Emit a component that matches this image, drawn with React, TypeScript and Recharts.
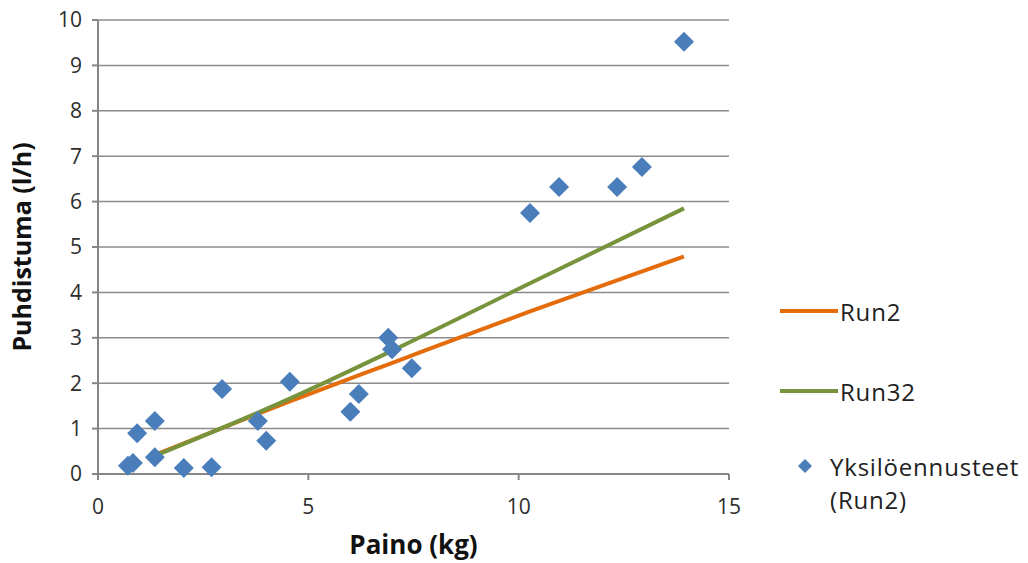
import {
  CartesianGrid,
  ComposedChart,
  Line,
  Scatter,
  XAxis,
  YAxis,
} from 'recharts'

// individual predictions (Run2)
const weightKg = [0.71, 0.83, 0.93, 1.35, 1.35, 2.04, 2.7, 2.95, 3.8, 4.0, 4.56, 6.0, 6.2, 6.9, 6.99, 7.46, 10.27, 10.96, 12.34, 12.93, 13.93]
const predicted = [0.18, 0.24, 0.9, 1.17, 0.37, 0.13, 0.15, 1.87, 1.17, 0.73, 2.03, 1.37, 1.76, 3.0, 2.75, 2.33, 5.75, 6.32, 6.32, 6.76, 9.52]

// fitted curves
const curveX = [1.35, 4.56, 7.0, 10.27, 13.93]
const run2Y = [0.42, 1.6, 2.45, 3.58, 4.79]
const run32Y = [0.4, 1.66, 2.72, 4.2, 5.85]

const xTicks = [0, 5, 10, 15]
const yTicks = [0, 1, 2, 3, 4, 5, 6, 7, 8, 9, 10]

const scatterData = weightKg.map((x, i) => ({ x, y: predicted[i] }))
const run2Data = curveX.map((x, i) => ({ x, y: run2Y[i] }))
const run32Data = curveX.map((x, i) => ({ x, y: run32Y[i] }))

const FONT = '"Open Sans", "Noto Sans", sans-serif'
const ORANGE = '#e46c0a'
const GREEN = '#77933c'
const BLUE = '#4a7ebb'
const AXIS = '#868686'

const Diamond = (props: any) => {
  const { cx, cy } = props
  const r = 10
  return <polygon points={`${cx},${cy - r} ${cx + r},${cy} ${cx},${cy + r} ${cx - r},${cy}`} fill={BLUE} />
}

const legendText = { fontFamily: FONT, fontSize: 24, letterSpacing: 0.8, color: '#222', lineHeight: '33px' }

function LegendBox() {
  return (
    <div style={{ position: 'absolute', left: 780, top: 294, width: 248 }}>
      <div style={{ display: 'flex', alignItems: 'center', height: 34 }}>
        <span style={{ width: 58, height: 4, background: ORANGE, marginRight: 2 }} />
        <span style={legendText}>Run2</span>
      </div>
      <div style={{ display: 'flex', alignItems: 'center', height: 34, marginTop: 46 }}>
        <span style={{ width: 58, height: 4, background: GREEN, marginRight: 2 }} />
        <span style={legendText}>Run32</span>
      </div>
      <div style={{ display: 'flex', alignItems: 'flex-start', marginTop: 42 }}>
        <svg width={50} height={33}>
          <polygon points="25,9 32,16 25,23 18,16" fill={BLUE} />
        </svg>
        <span style={legendText}>
          Yksilöennusteet
          <br />
          (Run2)
        </span>
      </div>
    </div>
  )
}

export default function App() {
  return (
    <div style={{ position: 'absolute', left: 0, top: 0, width: 1028, height: 563, background: '#fff' }}>
      <ComposedChart width={1028} height={563} margin={{ top: 20, right: 299, bottom: 0, left: 0 }}>
        <CartesianGrid vertical={false} stroke="#8c8c8c" strokeWidth={1.5} />
        <XAxis
          type="number"
          dataKey="x"
          domain={[0, 15]}
          ticks={xTicks}
          height={89}
          stroke={AXIS}
          strokeWidth={2}
          tickSize={6}
          tickMargin={19}
          tick={{ fontFamily: FONT, fontSize: 21, fill: '#2e2e2e' }}
          label={{
            value: 'Paino (kg)',
            position: 'insideBottom',
            offset: 9,
            style: { fontFamily: FONT, fontSize: 26, fontWeight: 700, fill: '#111' },
          }}
        />
        <YAxis
          type="number"
          domain={[0, 10]}
          ticks={yTicks}
          width={98}
          stroke={AXIS}
          strokeWidth={2}
          tickSize={6}
          tickMargin={10}
          tick={{ fontFamily: FONT, fontSize: 21, fill: '#2e2e2e' }}
          label={{
            value: 'Puhdistuma (l/h)',
            angle: -90,
            position: 'insideLeft',
            offset: 22,
            style: { textAnchor: 'middle', fontFamily: FONT, fontSize: 25, fontWeight: 700, fill: '#111' },
          }}
        />
        <Line data={run2Data} dataKey="y" type="monotone" stroke={ORANGE} strokeWidth={4} dot={false} isAnimationActive={false} />
        <Line data={run32Data} dataKey="y" type="monotone" stroke={GREEN} strokeWidth={4} dot={false} isAnimationActive={false} />
        <Scatter data={scatterData} dataKey="y" shape={<Diamond />} isAnimationActive={false} />
      </ComposedChart>
      <LegendBox />
    </div>
  )
}
